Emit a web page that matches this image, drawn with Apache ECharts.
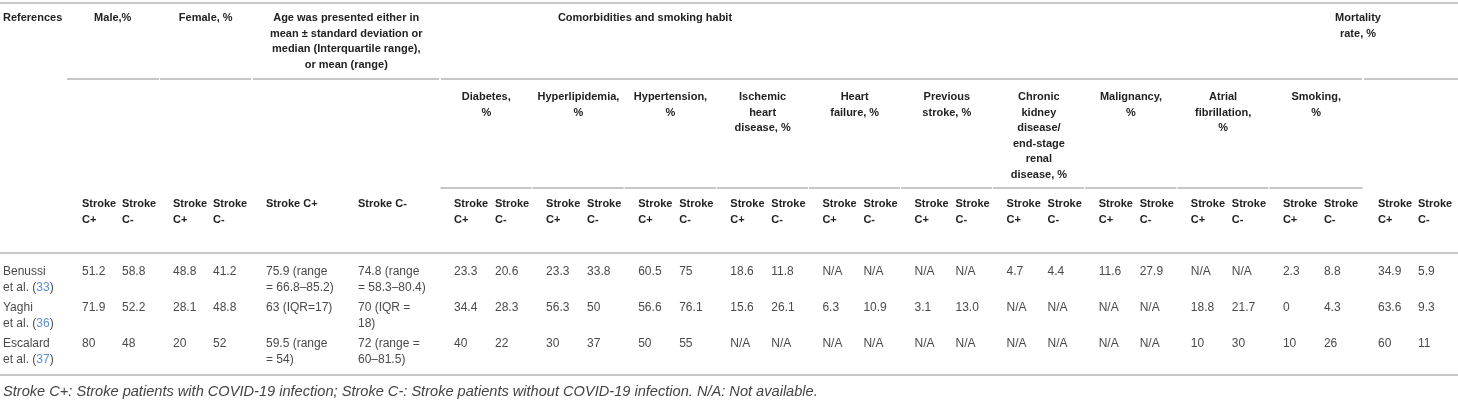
<!DOCTYPE html>
<html>
<head>
<meta charset="utf-8">
<script src="https://cdn.jsdelivr.net/npm/echarts@6/dist/echarts.min.js"></script>
<style>
  html, body { margin: 0; padding: 0; background: #fff; }
  #tableChart { width: 1458px; height: 403px; }
</style>
</head>
<body>
<div id="tableChart"></div>
<script>
// ---- table content ----
var studies = ['Benussi', 'Yaghi', 'Escalard'];
var refNums = ['33', '36', '37'];
var topHeaders = ['Male,%', 'Female, %',
  'Age was presented either in\nmean ± standard deviation or\nmedian (Interquartile range),\nor mean (range)'];
var comorbTitle = 'Comorbidities and smoking habit';
var mortalityTitle = 'Mortality\nrate, %';
var comorbidities = ['Diabetes,\n%', 'Hyperlipidemia,\n%', 'Hypertension,\n%', 'Ischemic\nheart\ndisease, %',
  'Heart\nfailure, %', 'Previous\nstroke, %', 'Chronic\nkidney\ndisease/\nend-stage\nrenal\ndisease, %',
  'Malignancy,\n%', 'Atrial\nfibrillation,\n%', 'Smoking,\n%'];
var subHeaders = ['Stroke\nC+', 'Stroke\nC-'];
var ageSubHeaders = ['Stroke C+', 'Stroke C-'];

// male, female, age, 10 comorbidities, mortality (C+ then C-)
var benussi = ['51.2', '58.8', '48.8', '41.2', '75.9 (range\n= 66.8–85.2)', '74.8 (range\n= 58.3–80.4)',
  '23.3', '20.6', '23.3', '33.8', '60.5', '75', '18.6', '11.8', 'N/A', 'N/A', 'N/A', 'N/A',
  '4.7', '4.4', '11.6', '27.9', 'N/A', 'N/A', '2.3', '8.8', '34.9', '5.9'];
var yaghi = ['71.9', '52.2', '28.1', '48.8', '63 (IQR=17)', '70 (IQR =\n18)',
  '34.4', '28.3', '56.3', '50', '56.6', '76.1', '15.6', '26.1', '6.3', '10.9', '3.1', '13.0',
  'N/A', 'N/A', 'N/A', 'N/A', '18.8', '21.7', '0', '4.3', '63.6', '9.3'];
var escalard = ['80', '48', '20', '52', '59.5 (range\n= 54)', '72 (range =\n60–81.5)',
  '40', '22', '30', '37', '50', '55', 'N/A', 'N/A', 'N/A', 'N/A', 'N/A', 'N/A',
  'N/A', 'N/A', 'N/A', 'N/A', '10', '30', '10', '26', '60', '11'];
var footnote = 'Stroke C+: Stroke patients with COVID-19 infection; Stroke C-: Stroke patients without COVID-19 infection. N/A: Not available.';

// ---- layout (table units = pixels of the 1458x403 page) ----
var W = 1458, H = 403;
var FONT = '"Liberation Sans", Arial, sans-serif';
var headColor = '#222', bodyColor = '#4a4a4a', refColor = '#5b8fd3', ruleColor = '#b4b4b4';
var LH = 15.5;
var HEAD_SIZE = 11, BODY_SIZE = 12, FOOT_SIZE = 14.6;

// column group starts: male, female, age, 10 comorbidity groups, mortality
var groupStart = [67, 160, 253];
for (var i = 0; i < 10; i++) groupStart.push(441 + i * 92.1);
groupStart.push(1364);
var groupEnd = groupStart.slice(1).map(function (v) { return v - 1.5; });
groupEnd.push(W);
var plusOff = [15, 13, 13, 13, 13, 13, 13, 13, 13, 13, 13, 13, 13, 14];
var minusOff = [55, 53, 105, 54, 54, 54, 54, 54, 54, 54, 54, 54, 54, 54];

var colX = [];
groupStart.forEach(function (s, g) {
  colX.push(s + plusOff[g]);
  colX.push(s + minusOff[g]);
});

var rowTop1 = 18, rowTop2 = 97, rowSub = 204, footY = 392;
var dataRowY = [272, 308, 344];

// ---- cells ----
var cells = [];
function addCell(x, yc, text, opt) {
  opt = opt || {};
  cells.push({
    x: x, y: yc - LH / 2, text: text,
    align: opt.align || 'left',
    weight: opt.weight || 'normal',
    italic: !!opt.italic,
    size: opt.size || BODY_SIZE,
    color: opt.color || bodyColor,
    rich: opt.rich
  });
}
var head = { weight: 'bold', size: HEAD_SIZE, color: headColor };
var headC = { align: 'center', weight: 'bold', size: HEAD_SIZE, color: headColor };

addCell(3, rowTop1, 'References', head);
topHeaders.forEach(function (t, g) {
  addCell((groupStart[g] + groupEnd[g]) / 2, rowTop1, t, headC);
});
addCell(645, rowTop1, comorbTitle, headC);
addCell(1358, rowTop1, mortalityTitle, headC);

comorbidities.forEach(function (t, k) {
  var g = k + 3;
  addCell((groupStart[g] + groupEnd[g]) / 2, rowTop2, t, headC);
});

colX.forEach(function (x, c) {
  var g = Math.floor(c / 2);
  var label = g === 2 ? ageSubHeaders[c % 2] : subHeaders[c % 2];
  addCell(x, rowSub, label, head);
});

[benussi, yaghi, escalard].forEach(function (row, r) {
  addCell(3, dataRowY[r], studies[r] + '\net al. ({ref|' + refNums[r] + '})', {
    rich: { ref: { fill: refColor, fontSize: BODY_SIZE, fontFamily: FONT, lineHeight: LH } }
  });
  row.forEach(function (v, c) {
    addCell(colX[c], dataRowY[r], v);
  });
});

addCell(3, footY, footnote, { italic: true, size: FOOT_SIZE, color: '#444' });

// ---- rules ----
var rules = [[0, 3, W]];
[[67, 159], [160, 251], [253, 439], [441, 1362], [1364, W]].forEach(function (s) {
  rules.push([s[0], 79, s[1]]);
});
for (var k = 3; k < 13; k++) rules.push([groupStart[k] - 0.5, 188, groupEnd[k]]);
rules.push([0, 253, W]);
rules.push([0, 375, W]);

var tableChart = echarts.init(document.getElementById('tableChart'));
var option = {
  animation: false,
  grid: { left: 0, right: 0, top: 0, bottom: 0 },
  xAxis: { type: 'value', min: 0, max: W, show: false },
  yAxis: { type: 'value', min: 0, max: H, inverse: true, show: false },
  series: [
    {
      type: 'custom',
      silent: true,
      clip: false,
      data: rules,
      renderItem: function (params, api) {
        var a = api.coord([api.value(0), api.value(1)]);
        var b = api.coord([api.value(2), api.value(1)]);
        return {
          type: 'line',
          shape: { x1: a[0], y1: a[1], x2: b[0], y2: b[1] },
          style: { stroke: ruleColor, lineWidth: 1.5 }
        };
      }
    },
    {
      type: 'custom',
      silent: true,
      clip: false,
      data: cells.map(function (c) { return [c.x, c.y]; }),
      renderItem: function (params, api) {
        var c = cells[params.dataIndex];
        var p = api.coord([api.value(0), api.value(1)]);
        var style = {
          text: c.text,
          fill: c.color,
          fontFamily: FONT,
          fontSize: c.size,
          fontWeight: c.weight,
          fontStyle: c.italic ? 'italic' : 'normal',
          align: c.align,
          verticalAlign: 'top',
          lineHeight: LH
        };
        if (c.rich) style.rich = c.rich;
        return { type: 'text', x: p[0], y: p[1], style: style };
      }
    }
  ]
};
tableChart.setOption(option);
</script>
</body>
</html>
